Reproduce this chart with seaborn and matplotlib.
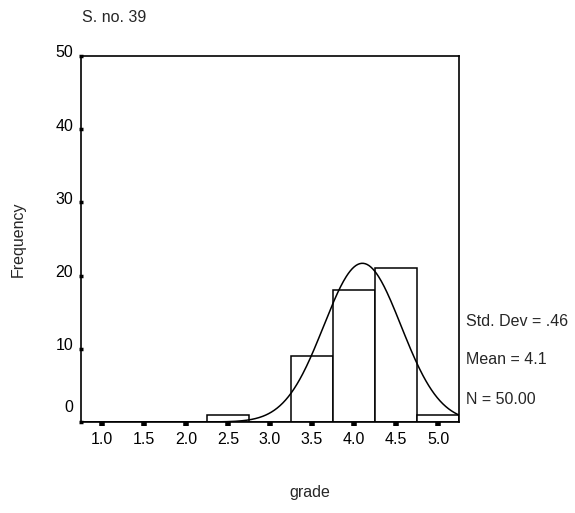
import numpy as np
import pandas as pd
import matplotlib
matplotlib.use("Agg")
import matplotlib.pyplot as plt
import matplotlib.transforms as mtrans
import seaborn as sns

# ---- data ----
bin_centers = [1.0, 1.5, 2.0, 2.5, 3.0, 3.5, 4.0, 4.5, 5.0]
counts = [0, 0, 0, 1, 0, 9, 18, 21, 1]
x_ticks = [1.0, 1.5, 2.0, 2.5, 3.0, 3.5, 4.0, 4.5, 5.0]
y_ticks = [0, 10, 20, 30, 40, 50]
mean_val = 4.1
std_val = 0.46
n_val = 50
bin_width = 0.5

sns.set_style("white")
plt.rcParams['font.family'] = ['Liberation Sans', 'DejaVu Sans']
FS = 11.5

fig = plt.figure(figsize=(5.75, 5.13), dpi=100)
ax = fig.add_axes([81/575, 1-422/513, (459-81)/575, (422-56)/513])

df = pd.DataFrame({"grade": bin_centers, "count": counts})
sns.histplot(data=df, x="grade", weights="count", binwidth=bin_width,
             binrange=(0.75, 5.25), ax=ax,
             color="white", edgecolor="black", linewidth=1.1, alpha=1)

xs = np.linspace(0.75, 5.25, 400)
ys = n_val * bin_width / (std_val * np.sqrt(2*np.pi)) * np.exp(-0.5*((xs-mean_val)/std_val)**2)
sns.lineplot(x=xs, y=ys, ax=ax, color="black", linewidth=1.1)

ax.set_xlim(0.75, 5.25)
ax.set_ylim(0, 50)
ax.set_xticks(x_ticks)
ax.set_xticklabels([f"{v:.1f}" for v in x_ticks])
ax.set_yticks(y_ticks)
ax.set_yticklabels([str(v) for v in y_ticks])

for s in ax.spines.values():
    s.set_visible(True)
    s.set_color("black")
    s.set_linewidth(1.2)

ax.tick_params(axis="x", direction="out", length=3, width=4, colors="black",
               labelsize=FS, pad=4, bottom=True)
ax.tick_params(axis="y", direction="inout", length=3, width=2.5, colors="black",
               labelsize=FS, pad=4, left=True)

# SPSS-style label offsets (labels sit a little above their ticks)
for t in ax.get_yticklabels():
    dy = 11.5/72 if t.get_text() == "0" else 3.3/72
    t.set_transform(t.get_transform() + mtrans.ScaledTranslation(0, dy, fig.dpi_scale_trans))

ax.set_xlabel("grade", fontsize=FS)
ax.xaxis.set_label_coords((310-81)/378, (422-485)/366)
ax.set_ylabel("Frequency", fontsize=FS)
ax.yaxis.set_label_coords((26-81)/378, 0.5)

fig.text(82/575, 1-17/513, "S. no. 39", fontsize=FS, va="center", ha="left")
fig.text(466/575, 1-322/513, "Std. Dev = .46", fontsize=FS, va="center", ha="left")
fig.text(466/575, 1-360/513, "Mean = 4.1", fontsize=FS, va="center", ha="left")
fig.text(466/575, 1-399/513, "N = 50.00", fontsize=FS, va="center", ha="left")

fig.savefig("out.png", dpi=100, facecolor="white")
